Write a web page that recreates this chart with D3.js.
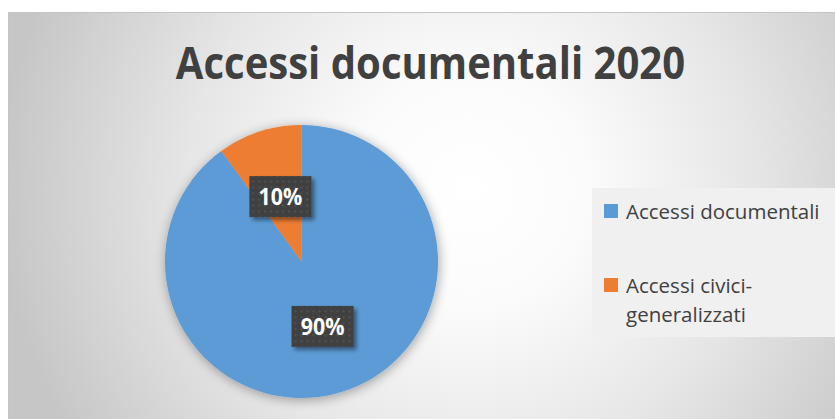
<!DOCTYPE html>
<html>
<head>
<meta charset="utf-8">
<script src="https://cdn.jsdelivr.net/npm/d3@7"></script>
<style>
  html, body { margin: 0; padding: 0; background: #ffffff; }
  svg { display: block; }
</style>
</head>
<body>
<svg id="chart" width="835" height="419"></svg>
<script>
// Chart content
const title = "Accessi documentali 2020";
const categories = ["Accessi documentali", "Accessi civici-generalizzati"];
const values = [90, 10];
const legendLines = [["Accessi documentali"], ["Accessi civici-", "generalizzati"]];
const colors = ["#5b9bd5", "#ed7d31"];

const W = 835, H = 419;
const svg = d3.select("#chart");
const defs = svg.append("defs");

// Plot background: soft grey radial fade
const bg = defs.append("radialGradient")
  .attr("id", "bgGrad")
  .attr("gradientUnits", "userSpaceOnUse")
  .attr("cx", 470).attr("cy", 190).attr("r", 470);
[[0, "#ffffff"], [0.25, "#fbfbfb"], [0.6, "#e6e6e6"], [1, "#c6c6c6"]]
  .forEach(([o, c]) => bg.append("stop").attr("offset", o).attr("stop-color", c));

// Glow shadow under the pie
const pieShadow = defs.append("filter").attr("id", "pieShadow")
  .attr("x", "-20%").attr("y", "-20%").attr("width", "140%").attr("height", "140%");
pieShadow.append("feGaussianBlur").attr("in", "SourceAlpha").attr("stdDeviation", 6).attr("result", "b");
pieShadow.append("feOffset").attr("in", "b").attr("dx", 1).attr("dy", 2).attr("result", "o");
pieShadow.append("feComponentTransfer").attr("in", "o").attr("result", "s")
  .append("feFuncA").attr("type", "linear").attr("slope", 0.35);
const pm = pieShadow.append("feMerge");
pm.append("feMergeNode").attr("in", "s");
pm.append("feMergeNode").attr("in", "SourceGraphic");

// Drop shadow for the value callouts
const boxShadow = defs.append("filter").attr("id", "boxShadow")
  .attr("x", "-30%").attr("y", "-30%").attr("width", "170%").attr("height", "170%");
boxShadow.append("feGaussianBlur").attr("in", "SourceAlpha").attr("stdDeviation", 2).attr("result", "b");
boxShadow.append("feOffset").attr("in", "b").attr("dx", 3).attr("dy", 3).attr("result", "o");
boxShadow.append("feComponentTransfer").attr("in", "o").attr("result", "s")
  .append("feFuncA").attr("type", "linear").attr("slope", 0.45);
const bm = boxShadow.append("feMerge");
bm.append("feMergeNode").attr("in", "s");
bm.append("feMergeNode").attr("in", "SourceGraphic");

// Dotted texture for the callout boxes
const pat = defs.append("pattern").attr("id", "dots")
  .attr("patternUnits", "userSpaceOnUse").attr("width", 6).attr("height", 6);
pat.append("rect").attr("width", 6).attr("height", 6).attr("fill", "#404040");
pat.append("rect").attr("x", 2).attr("y", 2).attr("width", 1.6).attr("height", 1.6).attr("fill", "#5a5a5a");

// Chart area
svg.append("rect")
  .attr("x", 8.5).attr("y", 12.5).attr("width", W).attr("height", H)
  .attr("fill", "url(#bgGrad)")
  .attr("stroke", "#c4c4c4").attr("stroke-width", 1);

// Condense text to approximate a narrow UI face
function condense(sel, k) {
  sel.each(function () {
    const len = this.getComputedTextLength();
    d3.select(this).attr("textLength", len * k).attr("lengthAdjust", "spacingAndGlyphs");
  });
}

// Title
svg.append("text")
  .attr("x", 430.5).attr("y", 79)
  .attr("text-anchor", "middle")
  .attr("font-family", "'Open Sans', sans-serif")
  .attr("font-weight", 700)
  .attr("font-size", 45)
  .attr("fill", "#404040")
  .text(title)
  .call(condense, 0.89);

// Pie
const cx = 301.5, cy = 261.5, R = 136.5;
const pie = d3.pie().sort(null).value(d => d)(values);
const arc = d3.arc().innerRadius(0).outerRadius(R);
const labelArc = d3.arc().innerRadius(0).outerRadius(R);

const g = svg.append("g").attr("transform", `translate(${cx},${cy})`);
g.append("g").attr("filter", "url(#pieShadow)")
  .selectAll("path").data(pie).join("path")
  .attr("d", arc)
  .attr("fill", (d, i) => colors[i]);

// Percentage callouts
const total = d3.sum(values);
const fmt = d3.format(".0%");
const labels = g.selectAll("g.lbl").data(pie).join("g")
  .attr("class", "lbl")
  .attr("transform", d => `translate(${labelArc.centroid(d)})`);
labels.append("rect")
  .attr("x", -31).attr("y", -20.5).attr("width", 62).attr("height", 41)
  .attr("fill", "url(#dots)")
  .attr("filter", "url(#boxShadow)");
labels.append("text")
  .attr("text-anchor", "middle")
  .attr("dy", "0.36em")
  .attr("font-family", "'Open Sans', sans-serif")
  .attr("font-weight", 700)
  .attr("font-size", 23)
  .attr("fill", "#ffffff")
  .text(d => fmt(d.data / total))
  .call(condense, 0.93);

// Legend
const legend = svg.append("g");
legend.append("rect")
  .attr("x", 592).attr("y", 188).attr("width", 250).attr("height", 149)
  .attr("fill", "#f0f0f0");
const rowY = [204, 278];
const items = legend.selectAll("g.item").data(categories).join("g")
  .attr("class", "item")
  .attr("transform", (d, i) => `translate(604,${rowY[i]})`);
items.append("rect")
  .attr("width", 14).attr("height", 14)
  .attr("fill", (d, i) => colors[i]);
items.each(function (d, i) {
  const t = d3.select(this).append("text")
    .attr("font-family", "'Open Sans', sans-serif")
    .attr("font-size", 20.5)
    .attr("fill", "#404040");
  legendLines[i].forEach((line, j) => {
    t.append("tspan").attr("x", 22).attr("y", 14.5 + j * 29).text(line);
  });
  t.selectAll("tspan").call(condense, 1.0);
});
</script>
</body>
</html>
